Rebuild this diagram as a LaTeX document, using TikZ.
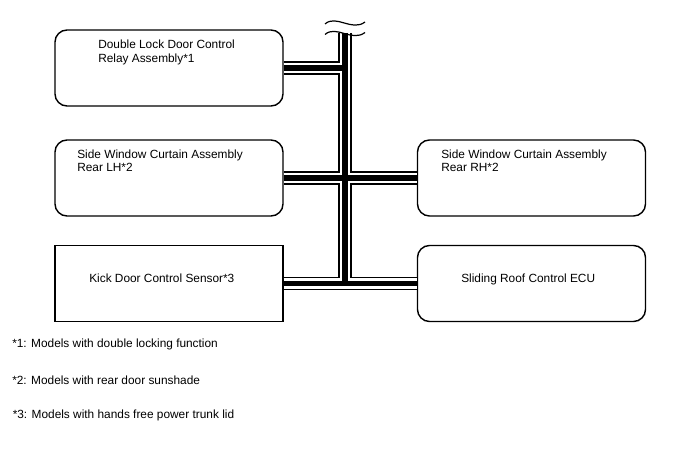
\documentclass[tikz,border=0pt]{standalone}
\usepackage{fontspec}
\setmainfont{Liberation Sans}
\usepackage{tikz}

\tikzset{
  unit/.style={draw, line width=1.05pt, rounded corners=9pt, minimum width=171pt, minimum height=57pt, inner sep=0pt},
  sharpunit/.style={unit, sharp corners},
  label/.style={inner sep=0pt, align=left},
  bus/.style={line width=10.3pt, postaction={draw=white, line width=7.7pt}, postaction={draw=black, line width=4pt}},
  brk/.style={line width=0.9pt}
}

\begin{document}
\begin{tikzpicture}[x=0.75pt, y=-0.75pt, every node/.style={font=\fontsize{8.9}{10.1}\selectfont}]
  \useasboundingbox (0,0) rectangle (688,463);

  % Units
  \node[unit] (dlock) at (169,68) {};
  \node[unit] (swl) at (169,178) {};
  \node[sharpunit] (kick) at (169,283.5) {};
  \node[unit] (swr) at (531.5,178) {};
  \node[unit] (roof) at (531.5,283.5) {};

  \node[label, anchor=north west] (dlocktxt) at (98,40) {Double Lock Door Control\\Relay Assembly*1};
  \node[label, anchor=north west] (swltxt) at (77,149.4) {Side Window Curtain Assembly\\Rear LH*2};
  \node[label, anchor=north west] (swrtxt) at (441,149.4) {Side Window Curtain Assembly\\Rear RH*2};
  \node[label, anchor=base west] (kicktxt) at (89,282) {Kick Door Control Sensor*3};
  \node[label, anchor=base west] (rooftxt) at (461,282.5) {Sliding Roof Control ECU};

  % Bus lines
  \coordinate (top) at (345,33);
  \coordinate (j1) at (345,68);
  \coordinate (bot) at (345,283.5);
  \draw[bus] (top) -- (bot)
             (dlock.east) -- (j1)
             (swl.east) -- (swr.west)
             (kick.east) -- (roof.west);

  % Break mark
  \draw[brk] (325,24) .. controls (336,14) and (352,32) .. (365,22);
  \draw[brk] (325,34.5) .. controls (336,24.5) and (352,42.5) .. (365,32.5);

  % Notes
  \node[label, anchor=base west] (note1) at (12,347.5) {*1: Models with double locking function};
  \node[label, anchor=base west] (note2) at (12,384) {*2: Models with rear door sunshade};
  \node[label, anchor=base west] (note3) at (12.5,418.5) {*3: Models with hands free power trunk lid};
\end{tikzpicture}
\end{document}
